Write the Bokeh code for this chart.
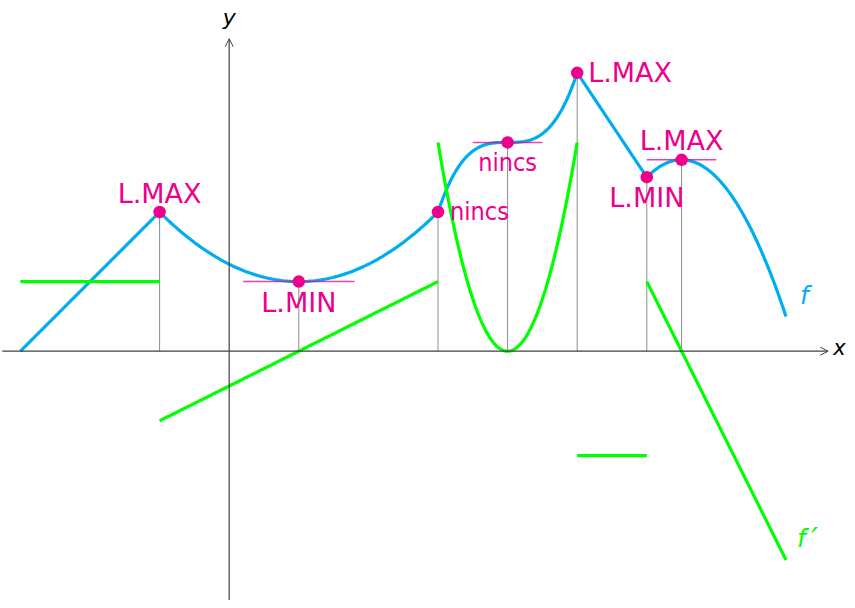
import numpy as np
from bokeh.plotting import figure
from bokeh.models import Range1d, Arrow, OpenHead, ColumnDataSource
from bokeh.core.properties import value
from bokeh.embed import file_html
from bokeh.resources import INLINE

# ---------------- data ----------------
# breakpoints of the piecewise function f
x_breaks = [-3, -1, 3, 5, 6, 8]
# special points of f
point_x = [-1, 1, 3, 4, 5, 6, 6.5]
point_y = [2, 1, 2, 3, 4, 2.5, 2.75]
point_labels = ["L.MAX", "L.MIN", "nincs", "nincs", "L.MAX", "L.MIN", "L.MAX"]
# horizontal tangents: centre x, centre y, half length
tangent_x = [1, 4, 6.5]
tangent_y = [1, 3, 2.75]
tangent_half = [0.8, 0.5, 0.5]
# piece parameters
start_point = (-3, 0)          # f starts on the x axis
vertex1 = (1, 1, 0.25)         # f = 1 + 0.25 (x-1)^2 on [-1,3]
inflection = (4, 3, 1.0)       # f = 3 + (x-4)^3 on [3,5]
corner_end = (6, 2.5)          # straight line from (5,4) to (6,2.5)
vertex2 = (6.5, 2.75, -1.0)    # f = 2.75 - (x-6.5)^2 on [6,8]


def f_piece(i, x):
    if i == 0:
        k = (point_y[0] - start_point[1]) / (point_x[0] - start_point[0])
        return start_point[1] + k * (x - start_point[0]), np.full_like(x, k)
    if i == 1:
        h, c, a = vertex1
        return c + a * (x - h) ** 2, 2 * a * (x - h)
    if i == 2:
        h, c, a = inflection
        return c + a * (x - h) ** 3, 3 * a * (x - h) ** 2
    if i == 3:
        k = (corner_end[1] - point_y[4]) / (corner_end[0] - point_x[4])
        return point_y[4] + k * (x - point_x[4]), np.full_like(x, k)
    h, c, a = vertex2
    return c + a * (x - h) ** 2, 2 * a * (x - h)


# ---------------- geometry / style ----------------
UNIT = 69.6
OX, OY = 228.7, 350.7     # origin in figure pixels
W, H = 847, 600

BLUE = "#00AEEF"
GREEN = "#00FF00"
MAGENTA = "#EC008C"
AXIS = "#404040"
GRAY = "#8c8c8c"
FONT = value("DejaVu Sans")
SHIFT = -9.5   # baseline correction for text placement

p = figure(width=W, height=H,
           x_range=Range1d(-OX / UNIT, (W - OX) / UNIT),
           y_range=Range1d((OY - H) / UNIT, OY / UNIT),
           x_axis_type=None, y_axis_type=None,
           toolbar_location=None, output_backend="svg",
           min_border=0)
p.grid.visible = False
p.outline_line_color = None
p.background_fill_color = "white"

# axes with arrows
x_axis_start, x_axis_end = -3.26, 8.606
y_axis_start, y_axis_end = -3.75, 4.49
p.add_layout(Arrow(end=OpenHead(size=8, line_width=1, line_color=AXIS),
                   x_start=x_axis_start, y_start=0, x_end=x_axis_end, y_end=0,
                   line_color=AXIS, line_width=1.2))
p.add_layout(Arrow(end=OpenHead(size=8, line_width=1, line_color=AXIS),
                   x_start=0, y_start=y_axis_start, x_end=0, y_end=y_axis_end,
                   line_color=AXIS, line_width=1.2))
p.text(x=[x_axis_end], y=[0], text=["x"], x_offset=5, y_offset=6.5 + SHIFT,
       text_align="left", text_baseline="alphabetic", text_font=FONT,
       text_font_style="italic", text_font_size="21px", text_color="black")
p.text(x=[0], y=[y_axis_end], text=["y"], x_offset=0, y_offset=-17.5 - 4,
       text_align="center", text_baseline="alphabetic", text_font=FONT,
       text_font_style="italic", text_font_size="22px", text_color="black")

# drop lines to the x axis
p.segment(x0=point_x, y0=[0] * len(point_x), x1=point_x, y1=point_y,
          line_color=GRAY, line_width=1)

# f and f'
for i in range(len(x_breaks) - 1):
    xs = np.linspace(x_breaks[i], x_breaks[i + 1], 120)
    ys, ds = f_piece(i, xs)
    p.line(xs, ys, line_color=BLUE, line_width=3.2)
for i in range(len(x_breaks) - 1):
    xs = np.linspace(x_breaks[i], x_breaks[i + 1], 120)
    ys, ds = f_piece(i, xs)
    p.line(xs, ds, line_color=GREEN, line_width=3.2)

# horizontal tangents
p.segment(x0=[a - h for a, h in zip(tangent_x, tangent_half)], y0=tangent_y,
          x1=[a + h for a, h in zip(tangent_x, tangent_half)], y1=tangent_y,
          line_color=MAGENTA, line_width=1.5, line_alpha=0.75)

# points
p.scatter(point_x, point_y, size=12.5, fill_color=MAGENTA, line_color=None)

# labels of special points
label_dx = [0, 0, 12, 0, 11, 0, 0]
label_dy = [d + SHIFT for d in [-9.4, 30.7, 9.0, 29.7, 9.6, 30.0, -9.7]]
label_align = ["center", "center", "left", "center", "left", "center", "center"]
label_font = ["DejaVu Sans" if t != "nincs" else "DejaVu Sans Condensed" for t in point_labels]
label_size = ["27px" if t != "nincs" else "25px" for t in point_labels]
src = ColumnDataSource(dict(x=point_x, y=point_y, text=point_labels,
                            dx=label_dx, dy=label_dy, align=label_align,
                            size=label_size, font=label_font))
p.text(x="x", y="y", text="text", x_offset="dx", y_offset="dy",
       text_align="align", text_font_size="size", text_baseline="alphabetic",
       text_font="font", text_color=MAGENTA, source=src)

# function names
end_x = x_breaks[-1]
fy, dy = f_piece(4, np.array([end_x], dtype=float))
p.text(x=[end_x], y=[fy[0]], text=["f"], x_offset=14, y_offset=-11 + SHIFT,
       text_align="left", text_baseline="alphabetic", text_font=FONT,
       text_font_style="italic", text_font_size="25px", text_color=BLUE)
p.text(x=[end_x], y=[dy[0]], text=["f"], x_offset=11, y_offset=-11 - 11,
       text_align="left", text_baseline="alphabetic", text_font=FONT,
       text_font_style="italic", text_font_size="25px", text_color=GREEN)
p.text(x=[end_x], y=[dy[0]], text=["\u2032"], x_offset=25, y_offset=-11 - 11,
       text_align="left", text_baseline="alphabetic", text_font=FONT,
       text_font_style="italic", text_font_size="31px", text_color=GREEN)

open("out.html", "w").write(file_html(p, INLINE))
